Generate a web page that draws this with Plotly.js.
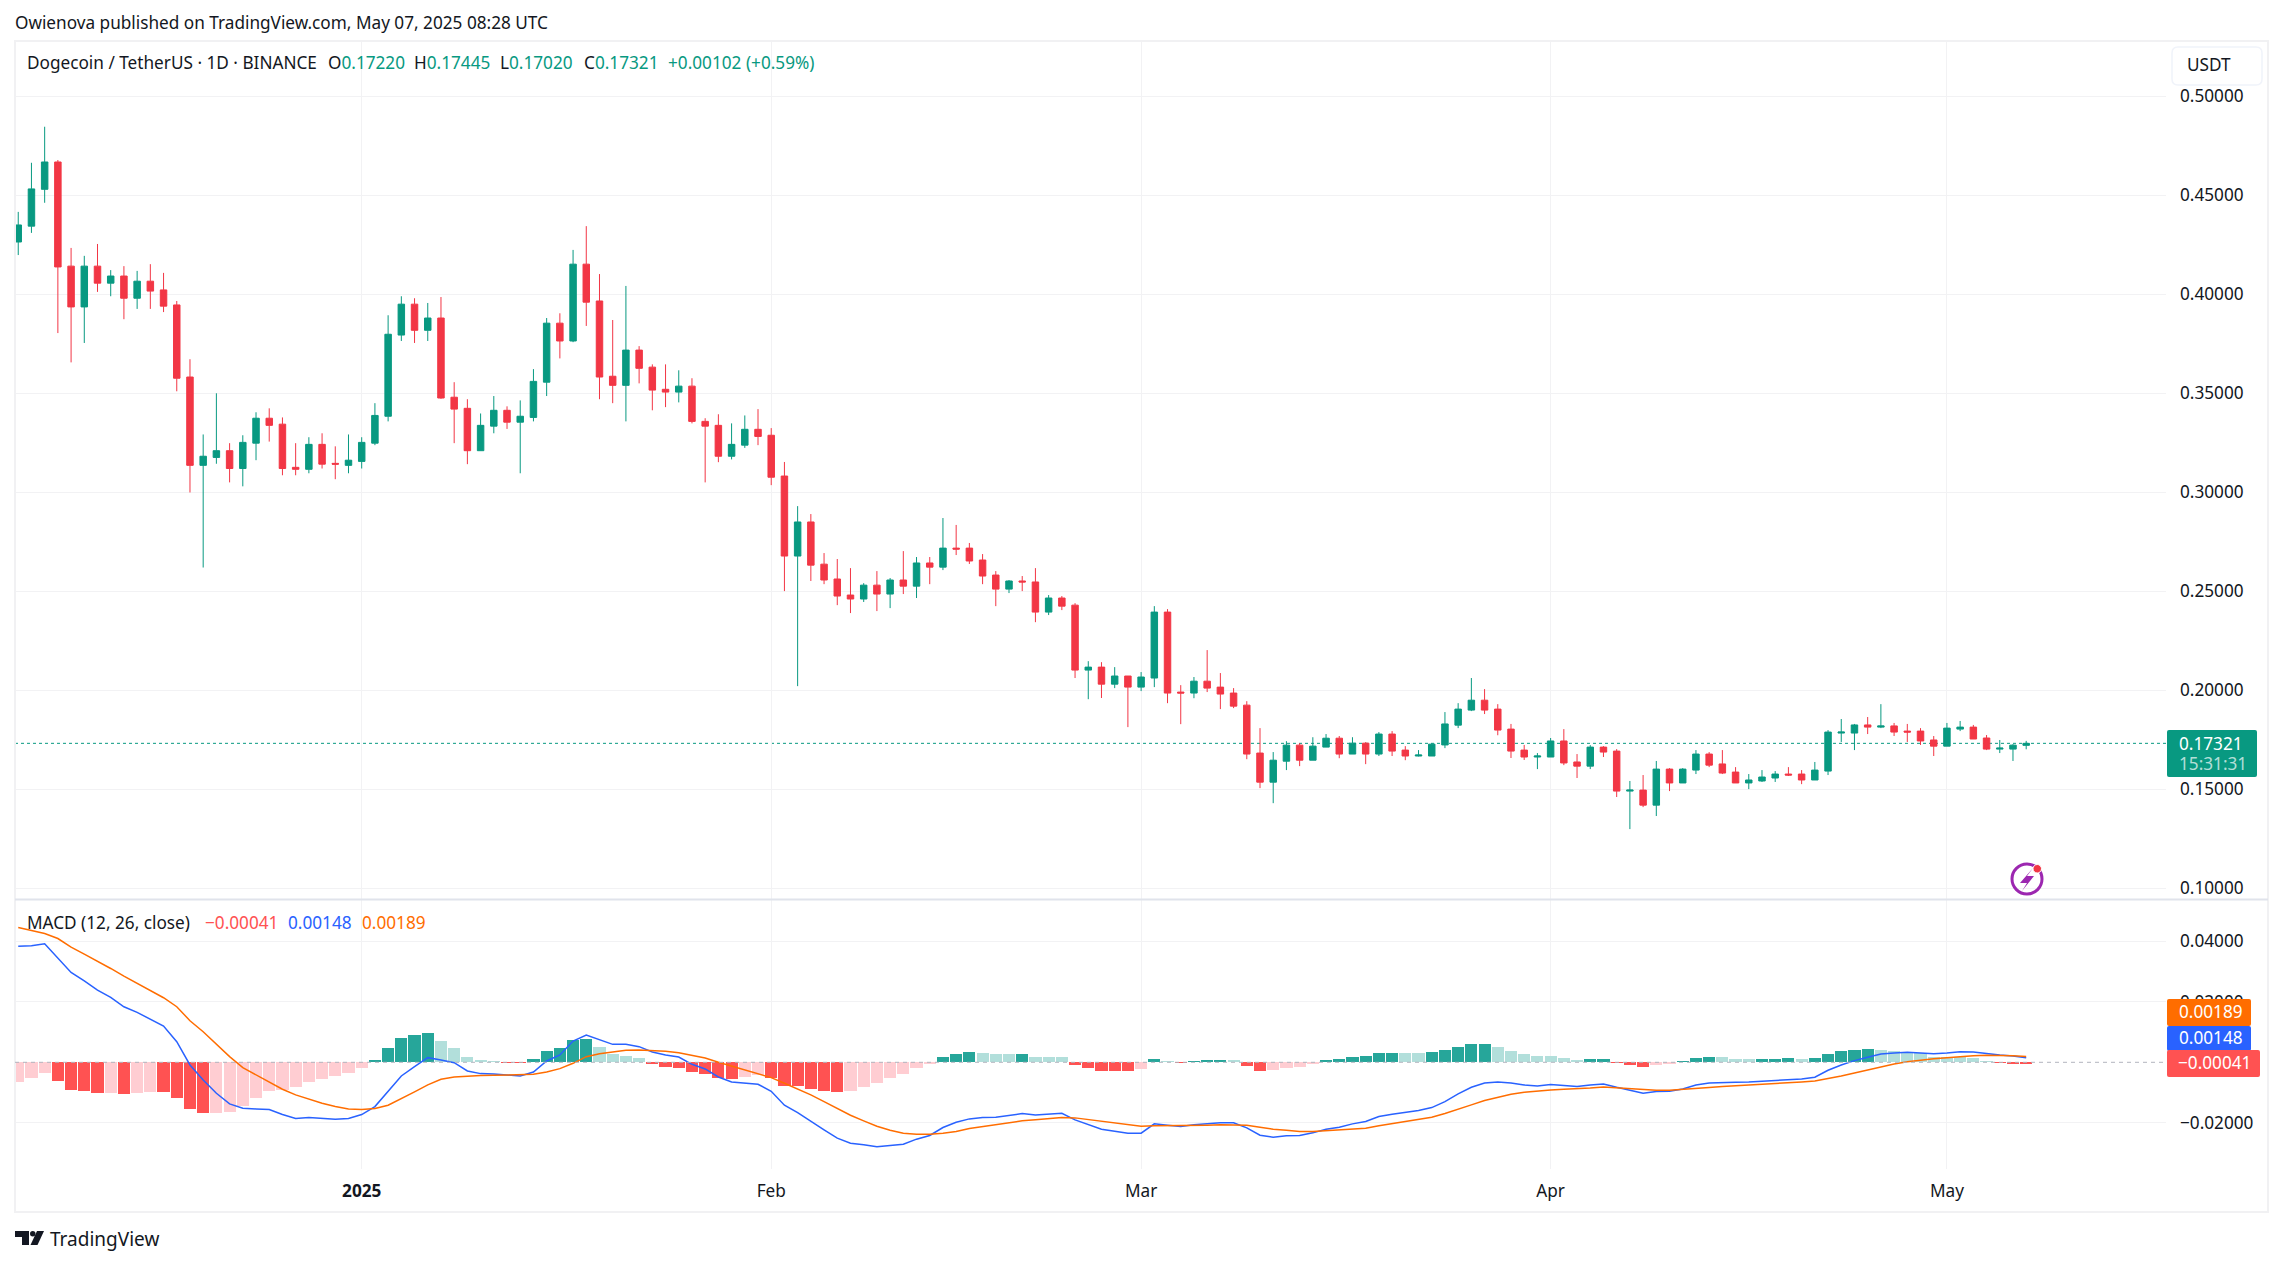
<!DOCTYPE html>
<html>
<head>
<meta charset="utf-8">
<script src="https://cdn.plot.ly/plotly-3.0.1.min.js"></script>
<style>html,body{margin:0;padding:0;background:#fff;overflow:hidden}#chart{width:2283px;height:1265px}</style>
</head>
<body>
<div id="chart"></div>
<script>
const sessionDates = ["2024-12-06","2024-12-07","2024-12-08","2024-12-09","2024-12-10","2024-12-11","2024-12-12","2024-12-13","2024-12-14","2024-12-15","2024-12-16","2024-12-17","2024-12-18","2024-12-19","2024-12-20","2024-12-21","2024-12-22","2024-12-23","2024-12-24","2024-12-25","2024-12-26","2024-12-27","2024-12-28","2024-12-29","2024-12-30","2024-12-31",
"2025-01-01","2025-01-02","2025-01-03","2025-01-04","2025-01-05","2025-01-06","2025-01-07","2025-01-08","2025-01-09","2025-01-10","2025-01-11","2025-01-12","2025-01-13","2025-01-14","2025-01-15","2025-01-16","2025-01-17","2025-01-18","2025-01-19","2025-01-20","2025-01-21","2025-01-22","2025-01-23","2025-01-24","2025-01-25","2025-01-26","2025-01-27","2025-01-28","2025-01-29","2025-01-30","2025-01-31",
"2025-02-01","2025-02-02","2025-02-03","2025-02-04","2025-02-05","2025-02-06","2025-02-07","2025-02-08","2025-02-09","2025-02-10","2025-02-11","2025-02-12","2025-02-13","2025-02-14","2025-02-15","2025-02-16","2025-02-17","2025-02-18","2025-02-19","2025-02-20","2025-02-21","2025-02-22","2025-02-23","2025-02-24","2025-02-25","2025-02-26","2025-02-27","2025-02-28",
"2025-03-01","2025-03-02","2025-03-03","2025-03-04","2025-03-05","2025-03-06","2025-03-07","2025-03-08","2025-03-09","2025-03-10","2025-03-11","2025-03-12","2025-03-13","2025-03-14","2025-03-15","2025-03-16","2025-03-17","2025-03-18","2025-03-19","2025-03-20","2025-03-21","2025-03-22","2025-03-23","2025-03-24","2025-03-25","2025-03-26","2025-03-27","2025-03-28","2025-03-29","2025-03-30","2025-03-31",
"2025-04-01","2025-04-02","2025-04-03","2025-04-04","2025-04-05","2025-04-06","2025-04-07","2025-04-08","2025-04-09","2025-04-10","2025-04-11","2025-04-12","2025-04-13","2025-04-14","2025-04-15","2025-04-16","2025-04-17","2025-04-18","2025-04-19","2025-04-20","2025-04-21","2025-04-22","2025-04-23","2025-04-24","2025-04-25","2025-04-26","2025-04-27","2025-04-28","2025-04-29","2025-04-30",
"2025-05-01","2025-05-02","2025-05-03","2025-05-04","2025-05-05","2025-05-06","2025-05-07"];

const opens = [.4264,.4344,.453,.4668,.4142,.3936,.4142,.4056,.4092,.398,.4066,.4022,.3946,.3582,.3136,.3176,.321,.312,.3248,.3374,.3344,.3126,.3116,.3242,.3146,.3136,.3156,.3248,.3384,.3794,.395,.3818,.388,.348,.3424,.321,.3334,.3414,.3354,.3378,.3556,.3854,.3764,.4152,.3966,.3586,.354,.3718,.3632,.352,.3506,.3536,.3358,.3338,.3182,.3238,.3318,.3288,.3082,
.2678,.285,.2637,.2562,.2481,.2461,.2531,.2486,.2557,.2526,.2643,.2622,.2718,.2718,.2658,.2582,.2511,.2552,.2547,.2395,.2466,.243,.2102,.2117,.2031,.2072,.2016,.2062,.2395,.1991,.1986,.2046,.2016,.1986,.1925,.1683,.1536,.1642,.1723,.1647,.1713,.1758,.1678,.1733,.1678,.1779,.1698,.1668,.1668,.1724,.1824,.19,.195,.1905,.1804,.1698,.1663,.1663,.1744,.1638,.1617,.1713,.1693,.1491,.1496,.142,.1602,.1532,.1597,.1678,.1628,.1587,.1532,.1542,.1557,.1577,.1577,.1547,.1592,.1784,.1784,.1825,.1814,.182,.1794,.1794,.1749,.1718,.1804,.1814,.1759,.1703,.1703,.1722];

const highs = [.4416,.4664,.4846,.4678,.4234,.4194,.4254,.4122,.4142,.4118,.4152,.4108,.3966,.3672,.3292,.35,.3248,.3288,.3404,.3424,.3378,.3248,.3278,.3298,.3232,.3292,.3278,.345,.3894,.399,.398,.3956,.3986,.3556,.347,.3398,.3486,.3434,.3464,.3622,.388,.3904,.4224,.4344,.4102,.387,.4042,.3738,.3646,.3646,.3616,.3576,.3374,.3394,.3348,.3388,.342,.3324,.3153,
.293,.289,.2693,.2663,.2617,.2541,.2602,.2567,.2703,.2673,.2673,.287,.2835,.2744,.2688,.2602,.2557,.2577,.2617,.2481,.2476,.244,.2147,.2142,.2117,.2072,.2092,.2425,.241,.2026,.2067,.2203,.2087,.2011,.1945,.1809,.1688,.1743,.1733,.1763,.1779,.1769,.1763,.1738,.1789,.1794,.1718,.1698,.1731,.189,.1935,.2062,.2006,.193,.183,.1724,.1683,.1759,.1804,.1678,.1723,.1718,.1703,.1542,.1572,.1643,.1607,.1607,.1698,.1688,.1698,.1612,.1577,.1597,.1592,.1612,.1597,.1638,.1799,.1855,.183,.1865,.193,.1835,.183,.1809,.1769,.1835,.1845,.1825,.1774,.1749,.1728,.17445];

const lows = [.4198,.431,.4462,.3804,.3656,.3754,.4012,.399,.3874,.3926,.3926,.391,.351,.2999,.262,.3144,.305,.303,.3162,.3256,.3086,.3086,.3096,.312,.3066,.3096,.312,.3238,.3358,.3764,.3754,.3764,.3472,.3248,.3142,.321,.3298,.332,.3096,.3358,.3486,.3676,.3758,.384,.347,.345,.3358,.355,.3414,.343,.3454,.3348,.305,.3152,.3166,.3224,.3238,.3036,.2501,
.2021,.2552,.2536,.243,.239,.2446,.24,.2415,.2486,.2466,.2536,.2607,.2683,.2638,.2536,.2425,.2491,.2501,.2344,.238,.2405,.2062,.1955,.1961,.2011,.1814,.1996,.2016,.1935,.1829,.196,.1991,.1905,.191,.1652,.1506,.143,.1597,.1617,.1647,.1713,.1657,.1678,.1627,.1668,.1668,.1647,.1666,.1668,.1708,.1809,.1895,.188,.1773,.1658,.1648,.1602,.1663,.1622,.1557,.1602,.1663,.1461,.1299,.141,.1365,.1491,.1532,.1577,.1612,.1577,.1532,.1501,.1537,.1537,.1567,.1526,.1547,.1572,.1739,.1698,.1779,.1809,.1769,.1739,.1724,.1668,.1718,.1794,.1754,.1698,.1683,.1643,.1702];

const closes = [.435,.4532,.4668,.4138,.3936,.4142,.4056,.4092,.398,.4066,.4016,.394,.3576,.3136,.3182,.321,.312,.3252,.3374,.3338,.312,.3116,.3242,.3142,.3142,.3162,.3252,.3388,.3798,.395,.3818,.388,.3476,.342,.321,.3338,.3414,.3354,.3384,.356,.3854,.3764,.4152,.396,.3582,.354,.3718,.3626,.3516,.3506,.3536,.3358,.3334,.3182,.3242,.3318,.3282,.3076,.2678,
.285,.2632,.2557,.2476,.2461,.2531,.2486,.2557,.2526,.2643,.2622,.2718,.2713,.2653,.2577,.2511,.2552,.2547,.2395,.2466,.2425,.2102,.2117,.2031,.2072,.2016,.2067,.2395,.1986,.1986,.2046,.2011,.1981,.192,.1678,.1536,.1647,.1723,.1647,.1718,.1758,.1678,.1733,.1678,.1779,.1693,.1668,.1673,.1728,.183,.1905,.195,.19,.1799,.1693,.1663,.1668,.1744,.1633,.1617,.1713,.1688,.1491,.1496,.142,.1602,.1532,.1602,.1678,.1622,.1582,.1532,.1547,.1562,.1577,.1572,.1547,.1597,.1789,.1789,.1825,.1814,.182,.1789,.1789,.1744,.1718,.1809,.1814,.1754,.1703,.1708,.1723,.17321];

const macdLine = [.03839,.0385,.03916,.03432,.0297,.02695,.02387,.02145,.01837,.0165,.01419,.01199,.00682,-.00088,-.00583,-.01023,-.01375,-.01518,-.0154,-.01562,-.01727,-.01859,-.01826,-.01859,-.01881,-.01859,-.01727,-.01463,-.00946,-.00451,-.00143,.00154,.00077,-.00011,-.00286,-.00374,-.00385,-.00418,-.00451,-.00319,.00044,.00242,.00704,.00902,.00737,.00594,.00594,.00517,.00341,.00242,.00176,-.00066,-.0022,-.00484,-.00649,-.00682,-.00726,-.00957,-.01419,-.01661,
-.01958,-.02233,-.02508,-.02673,-.02728,-.02794,-.0275,-.02706,-.02541,-.0242,-.02156,-.0198,-.0187,-.01826,-.01815,-.01749,-.01694,-.01738,-.01705,-.01683,-.01903,-.02068,-.02211,-.02277,-.02343,-.02343,-.02035,-.02079,-.02123,-.02068,-.02035,-.02002,-.02002,-.02167,-.02409,-.02475,-.02431,-.0242,-.02332,-.02211,-.02145,-.02035,-.01958,-.01793,-.01716,-.01661,-.01595,-.01496,-.01298,-.01045,-.00825,-.00682,-.00649,-.00682,-.00748,-.00781,-.00737,-.0077,-.00803,-.00748,
-.00715,-.00825,-.00913,-.01023,-.00968,-.00957,-.0088,-.00748,-.00682,-.0066,-.0066,-.00649,-.00627,-.00594,-.00561,-.0055,-.00495,-.00264,-.00088,.00055,.00165,.00275,.00308,.0033,.00308,.00286,.00308,.00352,.00341,.00286,.00242,.00209,.00148];

const signalLine = [.04455,.04345,.04257,.04092,.03806,.03575,.03344,.03102,.02849,.02607,.02365,.02134,.01837,.01375,.01012,.00605,.00187,-.00176,-.00418,-.00649,-.00891,-.01078,-.01221,-.01353,-.01463,-.0154,-.01562,-.01529,-.01419,-.0121,-.00979,-.00748,-.00561,-.00484,-.00451,-.0044,-.00429,-.00418,-.00418,-.00396,-.00319,-.00209,-.00033,.00187,.00286,.00352,.00396,.00407,.00396,.00363,.00319,.00242,.00143,0,-.00132,-.00264,-.00374,-.00506,-.00693,-.0088,
-.01078,-.01298,-.01529,-.01749,-.01936,-.02112,-.02244,-.02343,-.02376,-.02376,-.02343,-.02288,-.02189,-.02123,-.02068,-.02002,-.01936,-.01903,-.01859,-.01826,-.01837,-.01892,-.01958,-.02013,-.02068,-.02112,-.02101,-.02101,-.02101,-.0209,-.02079,-.02068,-.02068,-.02079,-.02145,-.02211,-.02244,-.02288,-.02288,-.02266,-.02244,-.02211,-.02178,-.02101,-.02035,-.01969,-.01892,-.01815,-.01694,-.01562,-.01408,-.01265,-.01155,-.01056,-.0099,-.00946,-.00913,-.00891,-.0088,-.00847,
-.00814,-.00847,-.0088,-.00902,-.00924,-.00924,-.00902,-.00869,-.00836,-.00803,-.00781,-.00748,-.00726,-.00704,-.00682,-.00649,-.00616,-.00539,-.00451,-.00352,-.00253,-.00143,-.00055,.00022,.00077,.00121,.00154,.00198,.0022,.00231,.00231,.0022,.00189];

const histValues = [-.00638,-.00517,-.00352,-.00616,-.00913,-.00946,-.01012,-.01012,-.01045,-.01012,-.00979,-.00979,-.01177,-.0154,-.01672,-.01672,-.01639,-.01441,-.01177,-.00946,-.00913,-.00814,-.00649,-.0055,-.00451,-.00352,-.00187,.00077,.00473,.00803,.00902,.00968,.00704,.00473,.00176,.00077,.00044,-.00022,-.00022,.0011,.00374,.00473,.00737,.0077,.00506,.00275,.00209,.00143,-.00055,-.00154,-.00187,-.00319,-.00385,-.00517,-.0055,-.00484,-.00418,-.00517,-.00781,-.00781,
-.0088,-.00946,-.00979,-.00946,-.00814,-.00682,-.00517,-.00385,-.00187,-.00055,.00176,.00275,.00341,.00308,.00275,.00275,.00275,.00176,.00176,.00176,-.00088,-.00187,-.00286,-.00286,-.00286,-.0022,.0011,.00044,-.00022,.00044,.00077,.00077,.00077,-.00121,-.00286,-.00253,-.00187,-.00154,-.00055,.00077,.0011,.00176,.00209,.00308,.00308,.00308,.00308,.00341,.00407,.00506,.00605,.00605,.00506,.00374,.00275,.00209,.00209,.00143,.00077,.0011,
.0011,-.00022,-.00088,-.00154,-.00088,-.00055,.00044,.00143,.00176,.00176,.0011,.0011,.0011,.0011,.00143,.0011,.00143,.00275,.00374,.00407,.0044,.00407,.00374,.00308,.00308,.00176,.00176,.00176,.00143,.00044,-.00022,-.00044,-.00041];

// 1 = momentum strengthening (solid shade), 0 = weakening (pale shade)
const histStrong = [0,0,0,1,1,1,1,0,1,0,0,1,1,1,1,0,0,0,0,0,0,0,0,0,0,0,0,1,1,1,1,1,0,0,0,0,0,1,1,1,1,1,1,1,0,0,0,0,1,1,1,1,1,1,1,0,0,1,1,1,1,1,1,0,0,0,0,0,0,0,1,1,1,0,0,0,1,0,0,0,1,1,1,1,1,0,1,0,1,1,1,1,0,1,1,0,0,0,0,1,1,1,1,1,1,0,0,1,1,1,1,1,0,0,0,0,0,0,0,1,1,1,1,1,0,0,1,1,1,0,0,0,1,1,1,0,1,1,1,1,1,0,0,0,0,0,0,0,0,0,1,1,1];

const priceTicks = [0.10,0.15,0.20,0.25,0.30,0.35,0.40,0.45,0.50];
const macdTicks = [-0.02,0.02,0.04];
const monthTicks = ["2025-01-01","2025-02-01","2025-03-01","2025-04-01","2025-05-01"];
const monthLabels = ["<b>2025</b>","Feb","Mar","Apr","May"];
const lastClose = 0.17321;

const W = 2283, H = 1265;
const FONT = '"Noto Sans", sans-serif';
const FS = 17.2;
const UP = '#089981', DOWN = '#F23645';
const TEXT = '#131722';
const DAY = 86400000;
const px = x => x / W, py = y => 1 - y / H;

function path(d) { // "M x y L x y" given in page pixels -> paper coordinates
  return d.replace(/(-?[\d.]+) (-?[\d.]+)/g, (m, x, y) => px(+x) + ' ' + py(+y));
}
function rr(x0, y0, x1, y1, r) {
  return path(`M ${x0 + r} ${y0} L ${x1 - r} ${y0} Q ${x1} ${y0} ${x1} ${y0 + r} L ${x1} ${y1 - r} Q ${x1} ${y1} ${x1 - r} ${y1} L ${x0 + r} ${y1} Q ${x0} ${y1} ${x0} ${y1 - r} L ${x0} ${y0 + r} Q ${x0} ${y0} ${x0 + r} ${y0} Z`);
}
const base = {xref: 'paper', yref: 'paper', layer: 'above'};
const fillBox = (x0, y0, x1, y1, c, r = 2) => Object.assign({}, base, {type: 'path', path: rr(x0, y0, x1, y1, r), fillcolor: c, line: {width: 0}});
const pageLine = (x0, y0, x1, y1, c, w) => Object.assign({}, base, {type: 'line', x0: px(x0), x1: px(x1), y0: py(y0), y1: py(y1), line: {color: c, width: w}});

const shapes = [
  // frame and pane divider
  Object.assign({}, base, {type: 'rect', x0: px(15), x1: px(2268), y0: py(41), y1: py(1212), line: {color: '#f1f1f3', width: 2}}),
  pageLine(15, 899.5, 2268, 899.5, '#e0e3eb', 2),
  // last price line and zero line
  {type: 'line', xref: 'paper', yref: 'y', x0: px(15), x1: px(2166), y0: lastClose, y1: lastClose, layer: 'below', line: {color: UP, width: 1, dash: 'dot'}},
  {type: 'line', xref: 'paper', yref: 'y2', x0: px(15), x1: px(2166), y0: 0, y1: 0, layer: 'above', line: {color: '#b2b5be', width: 1, dash: '4px,4px'}},
  // USDT box
  Object.assign({}, base, {type: 'path', path: rr(2172, 47, 2262, 85, 6), fillcolor: '#ffffff', line: {color: '#f0f3fa', width: 1.5}}),
  // price labels
  fillBox(2167, 730, 2257, 777, UP),
  fillBox(2167, 999, 2251, 1026, '#FF6D00'),
  fillBox(2167, 1026, 2251, 1051, '#2962FF'),
  fillBox(2167, 1050, 2260, 1077, '#FF5252'),
  // bolt icon
  Object.assign({}, base, {type: 'circle', x0: px(2012), x1: px(2042), y0: py(864), y1: py(894), line: {color: '#9C27B0', width: 3}}),
  Object.assign({}, base, {type: 'path', path: path('M 2033 868 L 2020 883 L 2027 883 L 2022 891 L 2034 876 L 2027 876 Z'), fillcolor: '#9C27B0', line: {width: 0}}),
  Object.assign({}, base, {type: 'circle', x0: px(2033), x1: px(2041.5), y0: py(864.5), y1: py(873), fillcolor: DOWN, line: {color: '#ffffff', width: 1}}),
  // TradingView logo
  Object.assign({}, base, {type: 'path', path: path('M 15 1231 L 29 1231 L 29 1245 L 22 1245 L 22 1237 L 15 1237 Z'), fillcolor: TEXT, line: {width: 0}}),
  Object.assign({}, base, {type: 'circle', x0: px(30), x1: px(35.5), y0: py(1231), y1: py(1236.5), fillcolor: TEXT, line: {width: 0}}),
  Object.assign({}, base, {type: 'path', path: path('M 37 1231 L 44 1231 L 37.5 1245 L 30.5 1245 Z'), fillcolor: TEXT, line: {width: 0}})
];

function label(text, x, y, opts = {}) {
  return Object.assign({
    xref: 'paper', yref: 'paper', x: px(x), y: py(y), text, showarrow: false,
    xanchor: 'left', yanchor: 'middle', align: 'left',
    font: {family: FONT, size: FS, color: TEXT}
  }, opts);
}
const colored = (t, c) => `<span style="color:${c}">${t}</span>`;
const centered = {xanchor: 'center', align: 'center'};
const whiteFont = {family: FONT, size: FS, color: '#ffffff'};

const annotations = [
  label('Owienova published on TradingView.com, May 07, 2025 08:28 UTC', 13, 22),
  label('Dogecoin / TetherUS · 1D · BINANCE', 25, 62.5),
  label('O' + colored('0.17220', UP), 326, 62.5),
  label('H' + colored('0.17445', UP), 412, 62.5),
  label('L' + colored('0.17020', UP), 498, 62.5),
  label('C' + colored('0.17321', UP), 582, 62.5),
  label(colored('+0.00102 (+0.59%)', UP), 666, 62.5),
  label('USDT', 2185, 64),
  label('0.17321', 2211, 743, Object.assign({font: whiteFont}, centered)),
  label('15:31:31', 2213, 764, Object.assign({font: {family: FONT, size: FS, color: 'rgba(255,255,255,0.7)'}}, centered)),
  label('MACD (12, 26, close)', 25, 922),
  label(colored('\u22120.00041', '#FF5252'), 203, 922),
  label(colored('0.00148', '#2962FF'), 286, 922),
  label(colored('0.00189', '#FF6D00'), 360, 922),
  label('0.00189', 2211, 1011, Object.assign({font: whiteFont}, centered)),
  label('0.00148', 2211, 1037, Object.assign({font: whiteFont}, centered)),
  label('\u22120.00041', 2214, 1062, Object.assign({font: whiteFont}, centered)),
  label('TradingView', 48, 1239, {font: {family: FONT, size: 19, color: TEXT}})
];

const histColors = histValues.map((v, i) =>
  v >= 0 ? (histStrong[i] ? '#26A69A' : '#B2DFDB') : (histStrong[i] ? '#FF5252' : '#FFCDD2'));

const traces = [
  {type: 'candlestick', x: sessionDates, open: opens, high: highs, low: lows, close: closes,
   xaxis: 'x', yaxis: 'y', width: 0.68 * DAY, whiskerwidth: 0,
   increasing: {line: {color: UP, width: 1}, fillcolor: UP},
   decreasing: {line: {color: DOWN, width: 1}, fillcolor: DOWN},
   hoverinfo: 'skip', showlegend: false},
  {type: 'bar', x: sessionDates, y: histValues, xaxis: 'x', yaxis: 'y2', width: 0.92 * DAY,
   marker: {color: histColors, line: {width: 0}}, hoverinfo: 'skip', showlegend: false},
  {type: 'scatter', mode: 'lines', x: sessionDates, y: macdLine, xaxis: 'x', yaxis: 'y2',
   line: {color: '#2962FF', width: 1.5}, hoverinfo: 'skip', showlegend: false},
  {type: 'scatter', mode: 'lines', x: sessionDates, y: signalLine, xaxis: 'x', yaxis: 'y2',
   line: {color: '#FF6D00', width: 1.5}, hoverinfo: 'skip', showlegend: false}
];

const GRID = '#f2f2f4';
const yCommon = {
  side: 'right', anchor: 'x', showgrid: true, gridcolor: GRID, gridwidth: 1, zeroline: false,
  showline: false, ticks: '', ticklabelstandoff: 13, tickformat: '.5f', tickmode: 'array',
  tickfont: {family: FONT, size: FS, color: TEXT}, fixedrange: true
};

const layout = {
  width: W, height: H, margin: {l: 0, r: 0, t: 0, b: 0, pad: 0},
  paper_bgcolor: '#ffffff', plot_bgcolor: '#ffffff', showlegend: false, dragmode: false, hovermode: false,
  bargap: 0,
  xaxis: {
    type: 'date', domain: [px(15), px(2166)], anchor: 'y2',
    range: ['2024-12-05 18:07', '2025-05-17 14:00'],
    tickmode: 'array', tickvals: monthTicks, ticktext: monthLabels,
    showgrid: true, gridcolor: GRID, gridwidth: 1, zeroline: false, showline: false, ticks: '',
    ticklabelstandoff: 10, tickfont: {family: FONT, size: FS, color: TEXT},
    rangeslider: {visible: false}, fixedrange: true
  },
  yaxis: Object.assign({}, yCommon, {domain: [py(899), py(41)], range: [0.0946, 0.5279], tickvals: priceTicks}),
  yaxis2: Object.assign({}, yCommon, {domain: [py(1169), py(899.5)], range: [-0.03527, 0.05382], tickvals: macdTicks}),
  shapes, annotations
};

Plotly.newPlot('chart', traces, layout, {displayModeBar: false, staticPlot: true});
</script>
</body>
</html>
